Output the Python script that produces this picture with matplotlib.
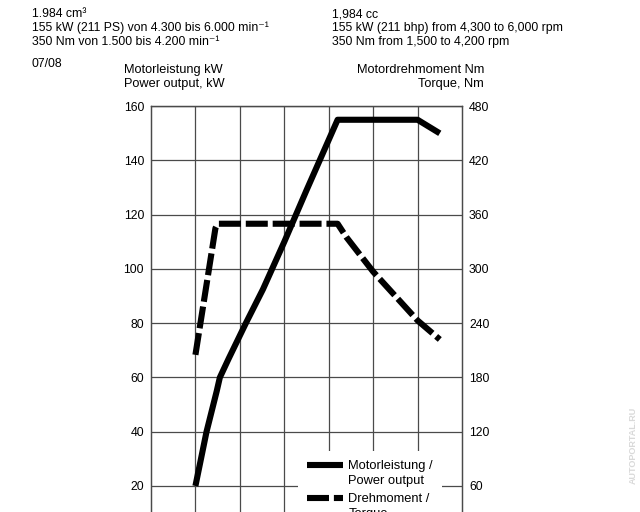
"""Full-load curve (power and torque vs engine speed) for the 1.984 cc TFSI engine."""

import matplotlib

matplotlib.use("Agg")

import matplotlib.pyplot as plt
import numpy as np
from matplotlib.legend_handler import HandlerLine2D

# values
power_rpm = [1000, 1250, 1480, 1550, 1750, 2135, 2520, 3000, 3500, 4200, 6000, 6500]
power_kw = [20, 40, 55, 60, 67, 80, 92.5, 110, 129, 155, 155, 150]

torque_rpm = [1000, 1450, 1500, 4200, 4400, 5000, 6000, 6500]
torque_nm = [205, 345, 350, 350, 335, 297, 243, 222]

left_ticks = [20, 40, 60, 80, 100, 120, 140, 160]
right_ticks = [60, 120, 180, 240, 300, 360, 420, 480]
rpm_grid = [1000, 2000, 3000, 4000, 5000, 6000]

FONT = "Liberation Sans"
SIZE = 8.8
TITLE_SIZE = 9.2
LEGEND_SIZE = 9.3
GRID = "#4a4a4a"

plt.rcParams["font.family"] = [FONT, "DejaVu Sans"]


class FirstLineHandler(HandlerLine2D):
    """Put the legend handle next to the first line of a two-line label."""

    def __init__(self, shift, **kwargs):
        super().__init__(**kwargs)
        self.shift = shift

    def create_artists(self, legend, orig_handle, xdescent, ydescent,
                       width, height, fontsize, trans):
        artists = super().create_artists(legend, orig_handle, xdescent, ydescent,
                                         width, height, fontsize, trans)
        for artist in artists:
            artist.set_ydata(np.asarray(artist.get_ydata()) + self.shift)
        return artists


fig = plt.figure(figsize=(6.4, 5.12), dpi=100)
# the bottom of the chart is cut off in the reference, so the axes run past the figure
ax = fig.add_axes([151 / 640, 1 - 540.2 / 512, 311 / 640, 434 / 512])
ax_torque = ax.twinx()

ax.set_xlim(0, 7000)
ax.set_ylim(0, 160)
ax_torque.set_ylim(0, 480)

ax.set_xticks(rpm_grid)
ax.set_xticklabels([])
ax.set_yticks(left_ticks)
ax.set_yticklabels([str(v) for v in left_ticks])
ax_torque.set_yticks(right_ticks)
ax_torque.set_yticklabels([str(v) for v in right_ticks])

ax.grid(True, color=GRID, linewidth=0.9)
for axis in (ax, ax_torque):
    axis.tick_params(length=0, labelsize=SIZE, pad=5)
    for spine in axis.spines.values():
        spine.set_color(GRID)
        spine.set_linewidth(0.9)

(power_line,) = ax_torque.plot(
    power_rpm, np.array(power_kw) * 3, color="black", linewidth=4.4,
    solid_joinstyle="round", solid_capstyle="butt",
    label="Motorleistung /\nPower output",
)
(torque_line,) = ax_torque.plot(
    torque_rpm, torque_nm, color="black", linewidth=4.4,
    linestyle=(0, (3.6, 0.8)), dash_capstyle="butt", dash_joinstyle="round",
    label="Drehmoment /\nTorque",
)

legend = ax_torque.legend(
    handles=[power_line, torque_line],
    loc="upper left",
    bbox_to_anchor=((298 - 151) / 311, (540.2 - 451) / 434),
    frameon=True, fancybox=False, facecolor="white", edgecolor="none",
    framealpha=1, fontsize=LEGEND_SIZE, handlelength=2.75, handletextpad=0.45,
    labelspacing=0.4, borderpad=0.7, borderaxespad=0,
    handler_map={
        power_line: FirstLineHandler(6.0),
        torque_line: FirstLineHandler(6.0),
    },
)
legend.get_frame().set_linewidth(0)
for text in legend.get_texts():
    text.set_linespacing(1.38)

# header texts
left_lines = [
    "1.984 cm³",
    "155 kW (211 PS) von 4.300 bis 6.000 min⁻¹",
    "350 Nm von 1.500 bis 4.200 min⁻¹",
]
right_lines = [
    "1,984 cc",
    "155 kW (211 bhp) from 4,300 to 6,000 rpm",
    "350 Nm from 1,500 to 4,200 rpm",
]
for row, (left_text, right_text) in enumerate(zip(left_lines, right_lines)):
    baseline = 1 - (17.3 + 14 * row) / 512
    fig.text(32 / 640, baseline, left_text, fontsize=SIZE, va="baseline")
    fig.text(332 / 640, baseline, right_text, fontsize=SIZE, va="baseline")

fig.text(32 / 640, 1 - 66.7 / 512, "07/08", fontsize=SIZE, va="baseline")
fig.text(124 / 640, 1 - 73.3 / 512, "Motorleistung kW", fontsize=TITLE_SIZE,
         va="baseline")
fig.text(124 / 640, 1 - 87.3 / 512, "Power output, kW", fontsize=TITLE_SIZE,
         va="baseline")
fig.text(484 / 640, 1 - 73.3 / 512, "Motordrehmoment Nm", fontsize=TITLE_SIZE,
         va="baseline", ha="right")
fig.text(484 / 640, 1 - 87.3 / 512, "Torque, Nm", fontsize=TITLE_SIZE,
         va="baseline", ha="right")

# faint watermark on the right edge
fig.text(633 / 640, 1 - 445 / 512, "AUTOPORTAL.RU", fontsize=6.5, rotation=90,
         color="#d9d9d9", fontweight="bold", ha="center", va="center")

fig.savefig("out.png", dpi=100, facecolor="white")
